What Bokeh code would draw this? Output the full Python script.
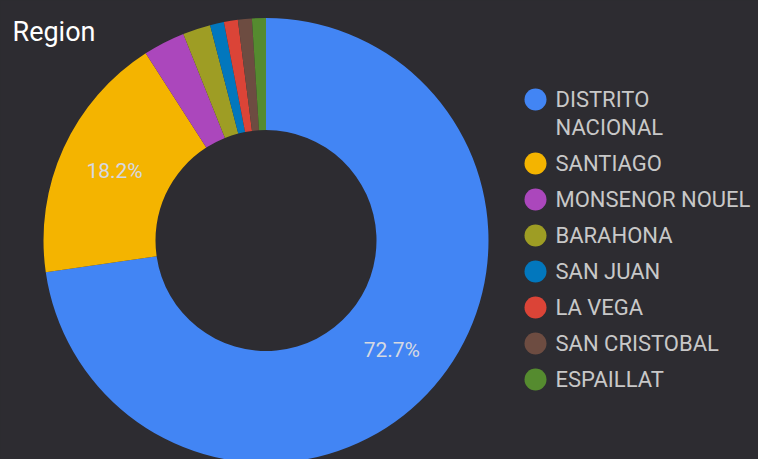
import numpy as np
from bokeh.plotting import figure
from bokeh.models import Range1d, ColumnDataSource
from bokeh.core.properties import value
from bokeh.embed import file_html
from bokeh.resources import INLINE

# ---- data ----
regions = ["DISTRITO NACIONAL", "SANTIAGO", "MONSENOR NOUEL", "BARAHONA",
           "SAN JUAN", "LA VEGA", "SAN CRISTOBAL", "ESPAILLAT"]
counts = [72, 18, 3, 2, 1, 1, 1, 1]
colors = ["#4285f4", "#f4b400", "#ab47bc", "#9e9d24",
          "#0277bd", "#db4437", "#6d4c41", "#558b2f"]
legend_lines = [["DISTRITO", "NACIONAL"], ["SANTIAGO"], ["MONSENOR NOUEL"], ["BARAHONA"],
                ["SAN JUAN"], ["LA VEGA"], ["SAN CRISTOBAL"], ["ESPAILLAT"]]
title_text = "Region"

# ---- layout ----
W, H = 758, 459
BG = "#2d2c31"
FONT = "Roboto"
cx, cy = 265.5, 219.0
r_in, r_out = 110.5, 222.5

vals = np.array(counts, dtype=float)
frac = vals / vals.sum()
cum_end = np.cumsum(frac)
cum_start = cum_end - frac
start = np.pi / 2 - cum_end * 2 * np.pi
end = np.pi / 2 - cum_start * 2 * np.pi

p = figure(width=W, height=H, output_backend="svg", toolbar_location=None,
           x_range=Range1d(0, W), y_range=Range1d(0, H),
           x_axis_type=None, y_axis_type=None, min_border=0,
           background_fill_color=BG, border_fill_color=BG, outline_line_color=None)
p.grid.visible = False

src = ColumnDataSource(dict(region=regions, start=start, end=end, color=colors))
p.annular_wedge(x=cx, y=cy, inner_radius=r_in, outer_radius=r_out,
                start_angle="start", end_angle="end", color="color",
                line_color=None, source=src)

# percentage labels on large slices
mid = np.pi / 2 - (cum_start + frac / 2) * 2 * np.pi
r_lab = (r_in + r_out) / 2
show = frac >= 0.05
lab_src = ColumnDataSource(dict(
    x=(cx + r_lab * np.cos(mid))[show],
    y=(cy + r_lab * np.sin(mid))[show],
    t=["%.1f%%" % (f * 100) for f in frac[show]]))
p.text(x="x", y="y", text="t", source=lab_src, text_font=value(FONT),
       text_font_size="21px", text_color="#d5d9e2",
       text_align="center", text_baseline="middle")

# title
p.text(x=[12], y=[427.3], text=[title_text], text_font=value(FONT),
       text_font_size="27px", text_color="#ffffff",
       text_align="left", text_baseline="alphabetic")

# legend
lx_dot, lx_txt = 535, 555
y0 = 360.0
row_gap, line_gap = 36.0, 28.0
dot_y, tx, ty, tt = [], [], [], []
y = y0
for lines in legend_lines:
    dot_y.append(y)
    for j, ln in enumerate(lines):
        tx.append(lx_txt)
        ty.append(y - j * line_gap)
        tt.append(ln)
    y -= row_gap + (len(lines) - 1) * line_gap

p.scatter(x=[lx_dot] * len(dot_y), y=dot_y, size=22, color=colors, line_color=None)
p.text(x=tx, y=ty, text=tt, text_font=value(FONT), text_font_size="22px",
       text_color="#c8c8c8", text_align="left", text_baseline="middle")

html = file_html(p, INLINE)
html = html.replace("<head>", "<head><style>html,body{background:%s;overflow:hidden;}</style>" % BG, 1)
open("out.html", "w").write(html)
